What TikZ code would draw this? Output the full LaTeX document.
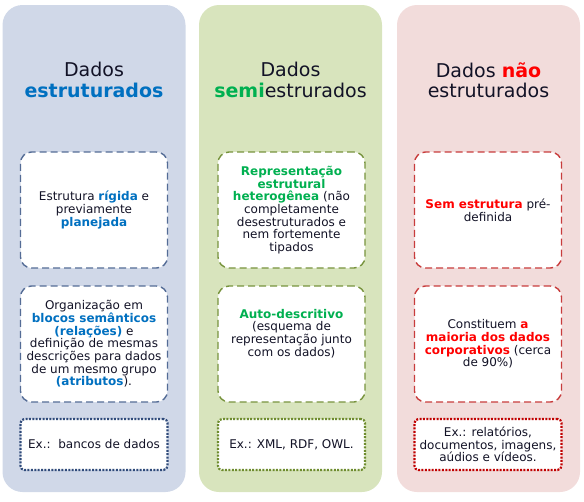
\documentclass[tikz,border=0pt]{standalone}
\usepackage{fontspec}
\setmainfont{DejaVu Sans}
\definecolor{txt}{RGB}{18,18,38}
\definecolor{cblue}{RGB}{0,112,192}
\definecolor{cgreen}{RGB}{0,176,80}
\definecolor{cred}{RGB}{255,0,0}
\definecolor{fblue}{RGB}{208,216,232}
\definecolor{fgreen}{RGB}{216,228,189}
\definecolor{fred}{RGB}{242,220,219}
\definecolor{dblue}{RGB}{84,108,150}
\definecolor{oblue}{RGB}{47,74,122}
\definecolor{dgreen}{RGB}{119,147,60}
\definecolor{ogreen}{RGB}{110,140,46}
\definecolor{dred}{RGB}{200,60,60}
\definecolor{ored}{RGB}{192,0,0}
\newcommand{\hb}[1]{\textcolor{cblue}{\textbf{#1}}}
\newcommand{\hg}[1]{\textcolor{cgreen}{\textbf{#1}}}
\newcommand{\hr}[1]{\textcolor{cred}{\textbf{#1}}}
\begin{document}
\begin{tikzpicture}[x=1pt,y=-1pt,
  colbox/.style={draw=none, rounded corners=20pt, minimum width=183pt, minimum height=487pt, inner sep=0pt},
  dbox/.style={draw, fill=white, line width=1.4pt, dash pattern=on 7pt off 4pt, rounded corners=11pt,
    minimum width=147pt, minimum height=116pt, inner sep=2pt, align=center, text=txt,
    font=\fontsize{12}{12.7}\selectfont},
  obox/.style={draw, fill=white, line width=2.2pt, dash pattern=on 2pt off 1.4pt, rounded corners=4pt,
    minimum width=147pt, minimum height=51pt, inner sep=2pt, align=center, text=txt,
    font=\fontsize{12}{12.7}\selectfont},
  head/.style={align=center, text=txt, font=\fontsize{19}{20.5}\selectfont}]
\useasboundingbox (0,0) rectangle (584,501);
% columns
\node[colbox, fill=fblue] (c1) at (94,248.5) {};
\node[colbox, fill=fgreen] (c2) at (290.5,248.5) {};
\node[colbox, fill=fred] (c3) at (488.5,248.5) {};
% headers
\node[head] (h1) at (94,80) {Dados\\\hb{estruturados}};
\node[head] (h2) at (290.5,80) {Dados\\\hg{semi}estrurados};
\node[head] (h3) at (488.5,80) {Dados \hr{não}\\estruturados};
% column 1
\node[dbox, draw=dblue] (a1) at (94,210) {Estrutura \hb{rígida} e\\previamente\\\hb{planejada}};
\node[dbox, draw=dblue] (a2) at (94,344) {Organização em\\\hb{blocos semânticos}\\\hb{(relações)} e\\definição de mesmas\\descrições para dados\\de um mesmo grupo\\\hb{(atributos}).};
\node[obox, draw=oblue] (a3) at (94,444.5) {Ex.:~~bancos de dados};
% column 2
\node[dbox, draw=dgreen] (b1) at (291.5,210) {\hg{Representação}\\\hg{estrutural}\\\hg{heterogênea} (não\\completamente\\desestruturados e\\nem fortemente\\tipados};
\node[dbox, draw=dgreen] (b2) at (291.5,344) {\hg{Auto-descritivo}\\(esquema de\\representação junto\\com os dados)\\[10pt]};
\node[obox, draw=ogreen] (b3) at (291.5,444.5) {Ex.: XML, RDF, OWL.};
% column 3
\node[dbox, draw=dred] (r1) at (488,210) {\hr{Sem estrutura} pré-\\definida};
\node[dbox, draw=dred] (r2) at (488,344) {Constituem \hr{a}\\\hr{maioria dos dados}\\\hr{corporativos} (cerca\\de 90\%)};
\node[obox, draw=ored] (r3) at (488,444.5) {Ex.: relatórios,\\documentos, imagens,\\aúdios e vídeos.};
\end{tikzpicture}
\end{document}
